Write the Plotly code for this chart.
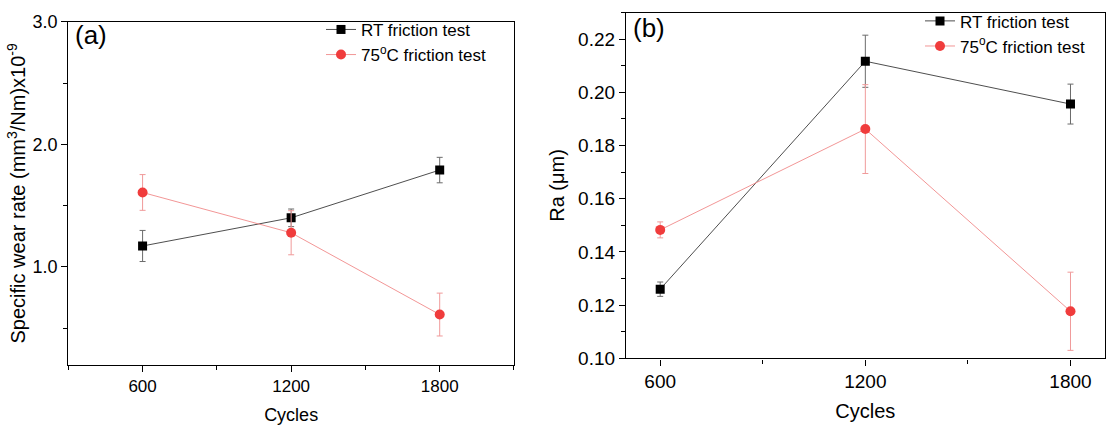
import plotly.graph_objects as go

# Cycle counts shared by both panels
cycles = [600, 1200, 1800]

# (a) specific wear rate, x10^-9 mm^3/Nm
wear_rt = [1.17, 1.40, 1.79]
wear_rt_err = [0.127, 0.072, 0.104]
wear_75 = [1.607, 1.278, 0.61]
wear_75_err = [0.146, 0.18, 0.175]

# (b) surface roughness Ra, um
ra_rt = [0.1260, 0.2117, 0.1956]
ra_rt_err = [0.0027, 0.0098, 0.0075]
ra_75 = [0.1483, 0.1862, 0.1177]
ra_75_err = [0.0030, 0.0167, 0.0147]

series_names = ["RT friction test", "75<sup>o</sup>C friction test"]

FONT = "Liberation Sans, Arial, sans-serif"
BLACK = "#000000"
RED = "#f03c3c"

fig = go.Figure()


def add_pair(xa, ya, rt, rt_err, hot, hot_err, legend):
    fig.add_trace(go.Scatter(
        x=cycles, y=rt, name=series_names[0], xaxis=xa, yaxis=ya, legend=legend,
        mode="lines+markers",
        line=dict(color="#3a3a3a", width=0.9),
        marker=dict(symbol="square", size=9, color=BLACK),
        error_y=dict(type="data", array=rt_err, color="#6b6b6b", thickness=1, width=3),
    ))
    fig.add_trace(go.Scatter(
        x=cycles, y=hot, name=series_names[1], xaxis=xa, yaxis=ya, legend=legend,
        mode="lines+markers",
        line=dict(color="#f08a8a", width=0.9),
        marker=dict(symbol="circle", size=10, color=RED),
        error_y=dict(type="data", array=hot_err, color="#f09a9a", thickness=1, width=3),
    ))


add_pair("x", "y", wear_rt, wear_rt_err, wear_75, wear_75_err, "legend")
add_pair("x2", "y2", ra_rt, ra_rt_err, ra_75, ra_75_err, "legend2")

axis_common = dict(
    showline=True, linecolor=BLACK, linewidth=1.3, mirror=True,
    ticks="outside", ticklen=6, tickwidth=1.2, tickcolor=BLACK,
    showgrid=False, zeroline=False,
)

fig.update_layout(
    width=1107, height=436,
    margin=dict(l=0, r=0, t=0, b=0),
    paper_bgcolor="white", plot_bgcolor="white",
    font=dict(family=FONT, color=BLACK),
    xaxis=dict(
        domain=[0.0617, 0.4643], range=[300, 2100],
        tick0=0, dtick=600,
        minor=dict(dtick=300, ticks="outside", ticklen=4, tickcolor=BLACK),
        tickfont=dict(size=17),
        title=dict(text="Cycles", font=dict(size=18), standoff=13),
        anchor="y", **axis_common,
    ),
    yaxis=dict(
        domain=[0.1452, 0.9713], range=[0.2, 3.0],
        tick0=0, dtick=1, tickformat=".1f",
        minor=dict(dtick=0.5, ticks="outside", ticklen=4, tickcolor=BLACK),
        tickfont=dict(size=18),
        title=dict(text="Specific wear rate (mm<sup>3</sup>/Nm)x10<sup>-9</sup>",
                   font=dict(size=20), standoff=1),
        anchor="x", **axis_common,
    ),
    xaxis2=dict(
        domain=[0.5655, 0.9979], range=[500, 1900],
        tick0=0, dtick=600,
        minor=dict(dtick=300, ticks="outside", ticklen=4, tickcolor=BLACK),
        tickfont=dict(size=19),
        title=dict(text="Cycles", font=dict(size=20), standoff=12),
        anchor="y2", **axis_common,
    ),
    yaxis2=dict(
        domain=[0.1606, 0.9938], range=[0.10, 0.23],
        tick0=0, dtick=0.02, tickformat=".2f",
        minor=dict(dtick=0.01, ticks="outside", ticklen=4, tickcolor=BLACK),
        tickfont=dict(size=19),
        title=dict(text="Ra (\u03bcm)", font=dict(size=20), standoff=8),
        anchor="x2", **axis_common,
    ),
    legend=dict(
        x=321 / 1107, y=1 - 2 / 436, xanchor="left", yanchor="top",
        bgcolor="rgba(0,0,0,0)", font=dict(size=17), tracegroupgap=0,
    ),
    legend2=dict(
        x=920 / 1107, y=1 + 7 / 436, xanchor="left", yanchor="top",
        bgcolor="rgba(0,0,0,0)", font=dict(size=17), tracegroupgap=0,
    ),
    annotations=[
        dict(text="(a)", x=73 / 1107, y=1 - 26 / 436, xref="paper", yref="paper",
             xanchor="left", yanchor="middle", showarrow=False,
             font=dict(size=26, family=FONT)),
        dict(text="(b)", x=631 / 1107, y=1 - 19 / 436, xref="paper", yref="paper",
             xanchor="left", yanchor="middle", showarrow=False,
             font=dict(size=26, family=FONT)),
    ],
)

fig.write_html("out.html")
